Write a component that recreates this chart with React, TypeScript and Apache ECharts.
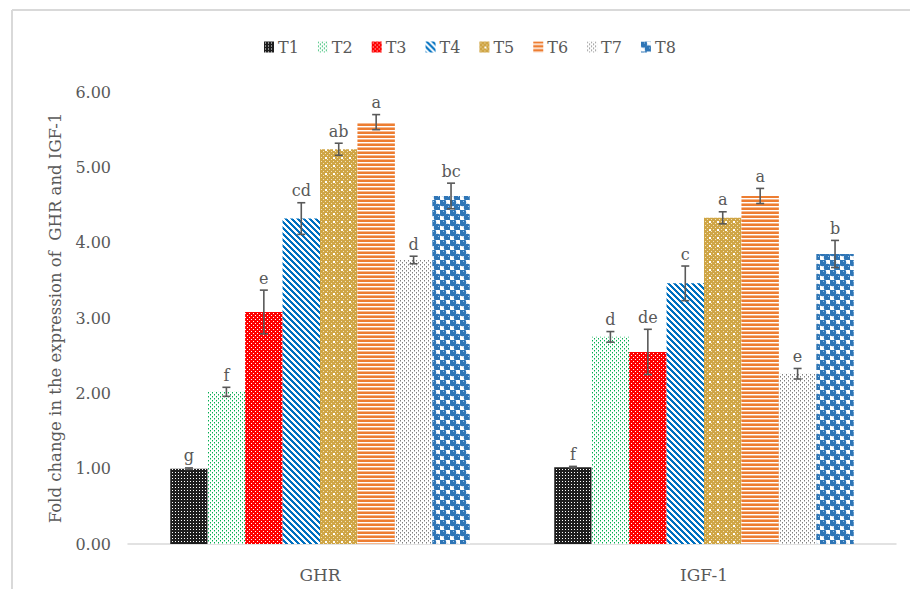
import React, { useEffect, useRef } from "react";
import * as echarts from "echarts";

const categories = ["GHR", "IGF-1"];
const seriesNames = ["T1", "T2", "T3", "T4", "T5", "T6", "T7", "T8"];
const ghrMeans = [1.0, 2.02, 3.08, 4.32, 5.24, 5.6, 3.77, 4.62];
const ghrErrors = [0.01, 0.06, 0.29, 0.21, 0.08, 0.1, 0.05, 0.17];
const ghrLetters = ["g", "f", "e", "cd", "ab", "a", "d", "bc"];
const igfMeans = [1.02, 2.75, 2.55, 3.46, 4.33, 4.62, 2.26, 3.85];
const igfErrors = [0.01, 0.07, 0.3, 0.23, 0.08, 0.1, 0.07, 0.18];
const igfLetters = ["f", "d", "de", "c", "a", "a", "e", "b"];
const yTicks = { min: 0, max: 6, interval: 1 };

const TEXT = "#595959";
const FONT = "DejaVu Serif";
const CAT_GAP = 0.22;

function tile(w: number, h: number, draw: (ctx: CanvasRenderingContext2D) => void) {
  const c = document.createElement("canvas");
  c.width = w;
  c.height = h;
  const ctx = c.getContext("2d")!;
  draw(ctx);
  return { image: c, repeat: "repeat", imageWidth: w, imageHeight: h } as any;
}

function makePatterns() {
  const px = (ctx: CanvasRenderingContext2D, col: string, pts: number[][]) => {
    ctx.fillStyle = col;
    pts.forEach(([x, y, w = 1, h = 1]) => ctx.fillRect(x, y, w, h));
  };
  const t1 = tile(3, 3, (ctx) => {
    ctx.fillStyle = "#1e1e1e";
    ctx.fillRect(0, 0, 3, 3);
    px(ctx, "#ffffff", [[1, 1]]);
  });
  const t2 = tile(4, 4, (ctx) => {
    ctx.fillStyle = "#ffffff";
    ctx.fillRect(0, 0, 4, 4);
    px(ctx, "#00B050", [[0, 0], [2, 2]]);
    px(ctx, "#8FD9AF", [[0, 1], [2, 3]]);
  });
  const t3 = tile(4, 4, (ctx) => {
    ctx.fillStyle = "#FF0000";
    ctx.fillRect(0, 0, 4, 4);
    px(ctx, "#ffffff", [[1, 1], [3, 3]]);
  });
  const t4 = tile(6, 6, (ctx) => {
    ctx.fillStyle = "#ffffff";
    ctx.fillRect(0, 0, 6, 6);
    ctx.fillStyle = "#0070C0";
    for (let x = 0; x < 6; x++)
      for (let y = 0; y < 6; y++) if ((((x - y) % 6) + 6) % 6 < 3) ctx.fillRect(x, y, 1, 1);
  });
  const t5 = tile(8, 8, (ctx) => {
    ctx.fillStyle = "#CFA545";
    ctx.fillRect(0, 0, 8, 8);
    px(ctx, "#F3E3BC", [[1, 1], [3, 3], [5, 1], [1, 5], [7, 3], [3, 7], [7, 7]]);
    px(ctx, "#ffffff", [[5, 5, 2, 2]]);
  });
  const t6 = tile(4, 4, (ctx) => {
    ctx.fillStyle = "#ED7D31";
    ctx.fillRect(0, 0, 4, 4);
    px(ctx, "#ffffff", [[0, 2, 4, 1]]);
    px(ctx, "#F6B88E", [[0, 3, 4, 1]]);
  });
  const t7 = tile(4, 4, (ctx) => {
    ctx.fillStyle = "#ffffff";
    ctx.fillRect(0, 0, 4, 4);
    px(ctx, "#7F7F7F", [[0, 0], [2, 2]]);
    px(ctx, "#BFBFBF", [[0, 1], [2, 3]]);
  });
  const t8 = tile(10, 10, (ctx) => {
    ctx.fillStyle = "#ffffff";
    ctx.fillRect(0, 0, 10, 10);
    ctx.fillStyle = "#2E75B6";
    const circ = (x: number, y: number, r: number) => {
      ctx.beginPath();
      ctx.arc(x, y, r, 0, Math.PI * 2);
      ctx.fill();
    };
    [[2.5, 2.5], [7.5, 7.5], [-2.5, 12.5], [12.5, -2.5], [12.5, 12.5], [-2.5, -2.5]].forEach(([x, y]) => circ(x, y, 3.7));
    ctx.fillStyle = "#9DC3E6";
    ctx.fillRect(3, 1, 1, 1);
    ctx.fillRect(8, 6, 1, 1);
  });
  return [t1, t2, t3, t4, t5, t6, t7, t8];
}

export default function App() {
  const ref = useRef<HTMLDivElement>(null);
  useEffect(() => {
    const chart = echarts.init(ref.current!, null, { renderer: "svg" });
    const patterns = makePatterns();
    const means = [ghrMeans, igfMeans];
    const errs = [ghrErrors, igfErrors];
    const letters = [ghrLetters, igfLetters];

    const barSeries = seriesNames.map((name, si) => ({
      name,
      type: "bar",
      barGap: "0%",
      barCategoryGap: CAT_GAP * 100 + "%",
      itemStyle: { color: patterns[si] },
      data: categories.map((_, ci) => means[ci][si]),
    }));

    const errData: number[][] = [];
    const errLetters: string[] = [];
    categories.forEach((_, ci) => {
      seriesNames.forEach((__, si) => {
        errData.push([ci, si, means[ci][si], errs[ci][si]]);
        errLetters.push(letters[ci][si]);
      });
    });

    const errSeries = {
      type: "custom",
      z: 5,
      silent: true,
      data: errData,
      encode: { x: 0, y: 2 },
      renderItem: (params: any, api: any) => {
        const ci = api.value(0);
        const si = api.value(1);
        const m = api.value(2);
        const e = api.value(3);
        const c = api.coord([ci, m]);
        const band = api.size([1, 0])[0];
        const gw = band * (1 - CAT_GAP);
        const bw = gw / seriesNames.length;
        const x = c[0] - gw / 2 + bw * (si + 0.5);
        const yT = api.coord([ci, m + e])[1];
        const yB = api.coord([ci, m - e])[1];
        const cap = 4;
        const ls = { stroke: TEXT, lineWidth: 1.6 };
        return {
          type: "group",
          children: [
            { type: "line", shape: { x1: x, y1: yT, x2: x, y2: yB }, style: ls },
            { type: "line", shape: { x1: x - cap, y1: yT, x2: x + cap, y2: yT }, style: ls },
            { type: "line", shape: { x1: x - cap, y1: yB, x2: x + cap, y2: yB }, style: ls },
            {
              type: "text",
              x,
              y: yT - 4,
              style: {
                text: errLetters[params.dataIndex],
                fill: TEXT,
                font: `16px "${FONT}"`,
                textAlign: "center",
                textVerticalAlign: "bottom",
              },
            },
          ],
        };
      },
    };

    chart.setOption({
      animation: false,
      backgroundColor: "#ffffff",
      textStyle: { fontFamily: FONT, color: TEXT },
      graphic: [
        { type: "line", shape: { x1: 12, y1: 10, x2: 910, y2: 10 }, style: { stroke: "#d9d9d9", lineWidth: 2 } },
        { type: "line", shape: { x1: 12, y1: 10, x2: 12, y2: 589 }, style: { stroke: "#d9d9d9", lineWidth: 2 } },
      ],
      legend: {
        data: seriesNames,
        top: 34,
        left: 259,
        icon: "rect",
        itemWidth: 10,
        itemHeight: 11,
        itemGap: 19,
        textStyle: { fontFamily: FONT, fontSize: 16, color: TEXT, padding: [0, 0, 0, -1] },
      },
      grid: { left: 128, right: 14, top: 92, bottom: 45 },
      xAxis: {
        type: "category",
        data: categories,
        axisLine: { lineStyle: { color: "#d9d9d9", width: 1.5 } },
        axisTick: { show: false },
        axisLabel: { fontFamily: FONT, fontSize: 17, color: TEXT, margin: 22 },
      },
      yAxis: {
        type: "value",
        min: yTicks.min,
        max: yTicks.max,
        interval: yTicks.interval,
        name: "Fold change in the expression of  GHR and IGF-1",
        nameLocation: "middle",
        nameGap: 64,
        nameTextStyle: { fontFamily: FONT, fontSize: 16.5, color: TEXT },
        axisLine: { show: false },
        axisTick: { show: false },
        splitLine: { show: false },
        axisLabel: {
          fontFamily: FONT,
          fontSize: 16,
          color: TEXT,
          margin: 17,
          formatter: (v: number) => v.toFixed(2),
        },
      },
      series: [...barSeries, errSeries],
    });
    return () => chart.dispose();
  }, []);
  return <div ref={ref} style={{ position: "absolute", left: 0, top: 0, width: 910, height: 589 }} />;
}
